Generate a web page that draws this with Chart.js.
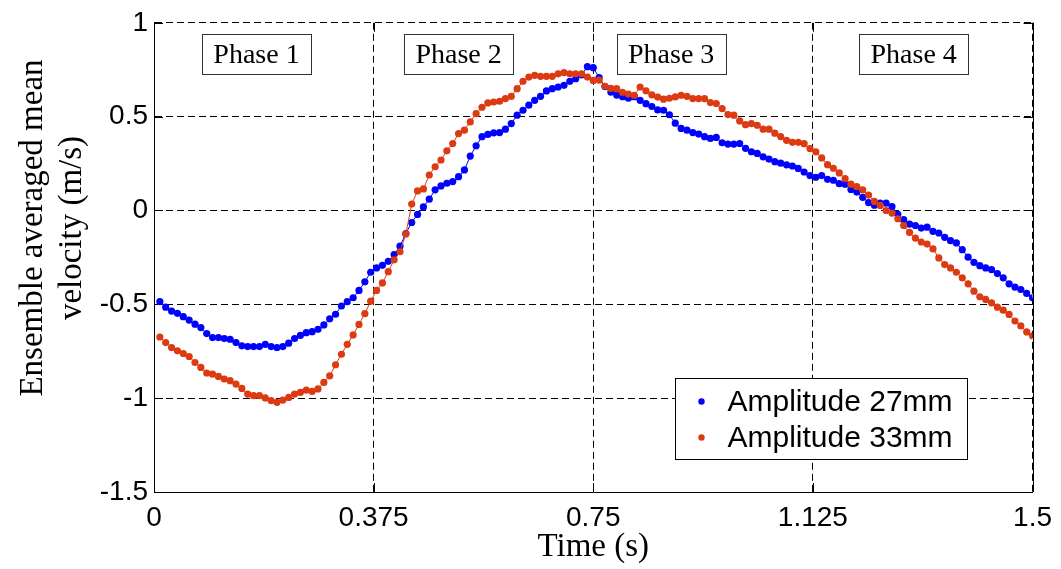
<!DOCTYPE html>
<html>
<head>
<meta charset="utf-8">
<script src="https://cdn.jsdelivr.net/npm/chart.js@4/dist/chart.umd.min.js"></script>
<style>
  html, body { margin: 0; padding: 0; background: #ffffff; }
  #wrap { width: 1061px; height: 569px; position: relative; }
  canvas { display: block; }
</style>
</head>
<body>
<div id="wrap"><canvas id="c" width="1061" height="569"></canvas></div>
<script>
// ---------------- data ----------------
const times = [
 0.01,0.02,0.03,0.04,0.05,0.06,0.07,0.08,0.09,0.10,
 0.11,0.12,0.13,0.14,0.15,0.16,0.17,0.18,0.19,0.20,
 0.21,0.22,0.23,0.24,0.25,0.26,0.27,0.28,0.29,0.30,
 0.31,0.32,0.33,0.34,0.35,0.36,0.37,0.38,0.39,0.40,
 0.41,0.42,0.43,0.44,0.45,0.46,0.47,0.48,0.49,0.50,
 0.51,0.52,0.53,0.54,0.55,0.56,0.57,0.58,0.59,0.60,
 0.61,0.62,0.63,0.64,0.65,0.66,0.67,0.68,0.69,0.70,
 0.71,0.72,0.73,0.74,0.75,0.76,0.77,0.78,0.79,0.80,
 0.81,0.82,0.83,0.84,0.85,0.86,0.87,0.88,0.89,0.90,
 0.91,0.92,0.93,0.94,0.95,0.96,0.97,0.98,0.99,1.00,
 1.01,1.02,1.03,1.04,1.05,1.06,1.07,1.08,1.09,1.10,
 1.11,1.12,1.13,1.14,1.15,1.16,1.17,1.18,1.19,1.20,
 1.21,1.22,1.23,1.24,1.25,1.26,1.27,1.28,1.29,1.30,
 1.31,1.32,1.33,1.34,1.35,1.36,1.37,1.38,1.39,1.40,
 1.41,1.42,1.43,1.44,1.45,1.46,1.47,1.48,1.49,1.50
];

const amp27 = [
 -0.486,-0.515,-0.536,-0.548,-0.566,-0.584,-0.606,-0.624,-0.656,-0.677,
 -0.677,-0.682,-0.686,-0.704,-0.721,-0.725,-0.725,-0.725,-0.713,-0.725,
 -0.730,-0.725,-0.707,-0.682,-0.665,-0.651,-0.646,-0.633,-0.610,-0.577,
 -0.553,-0.509,-0.486,-0.465,-0.426,-0.380,-0.329,-0.306,-0.292,-0.271,
 -0.235,-0.190,-0.123,-0.064,-0.021,0.019,0.060,0.110,0.131,0.145,
 0.154,0.180,0.216,0.290,0.345,0.393,0.405,0.414,0.415,0.433,
 0.463,0.508,0.534,0.561,0.587,0.608,0.637,0.649,0.658,0.667,
 0.688,0.702,0.723,0.766,0.761,0.708,0.660,0.631,0.615,0.606,
 0.598,0.606,0.587,0.569,0.554,0.536,0.534,0.510,0.465,0.437,
 0.428,0.415,0.407,0.393,0.384,0.389,0.361,0.354,0.354,0.357,
 0.331,0.313,0.304,0.286,0.274,0.260,0.252,0.243,0.237,0.224,
 0.205,0.186,0.177,0.186,0.166,0.161,0.143,0.140,0.112,0.098,
 0.070,0.042,0.028,0.039,0.039,0.021,-0.020,-0.049,-0.073,-0.080,
 -0.094,-0.089,-0.111,-0.120,-0.143,-0.161,-0.173,-0.209,-0.249,-0.276,
 -0.294,-0.306,-0.315,-0.336,-0.359,-0.391,-0.408,-0.421,-0.442,-0.465
];

const amp33 = [
 -0.674,-0.704,-0.730,-0.748,-0.762,-0.778,-0.810,-0.836,-0.866,-0.872,
 -0.884,-0.898,-0.907,-0.925,-0.948,-0.978,-0.987,-0.987,-0.999,-1.013,
 -1.022,-1.010,-0.996,-0.978,-0.969,-0.957,-0.964,-0.951,-0.916,-0.881,
 -0.822,-0.766,-0.713,-0.663,-0.607,-0.550,-0.483,-0.426,-0.386,-0.326,
 -0.263,-0.220,-0.125,0.034,0.104,0.115,0.189,0.233,0.269,0.318,
 0.357,0.410,0.428,0.472,0.516,0.550,0.573,0.578,0.582,0.596,
 0.608,0.649,0.688,0.711,0.720,0.715,0.715,0.715,0.728,0.734,
 0.728,0.728,0.728,0.711,0.693,0.695,0.662,0.651,0.649,0.630,
 0.620,0.614,0.658,0.638,0.616,0.604,0.593,0.598,0.605,0.614,
 0.608,0.596,0.596,0.596,0.575,0.570,0.543,0.511,0.508,0.477,
 0.457,0.463,0.454,0.433,0.433,0.412,0.394,0.374,0.363,0.363,
 0.356,0.330,0.313,0.280,0.244,0.225,0.200,0.170,0.140,0.127,
 0.110,0.082,0.048,0.027,0.000,-0.014,-0.044,-0.080,-0.117,-0.147,
 -0.168,-0.179,-0.205,-0.253,-0.288,-0.306,-0.329,-0.359,-0.391,-0.430,
 -0.460,-0.474,-0.492,-0.515,-0.531,-0.554,-0.589,-0.615,-0.647,-0.668
];

const seriesLabels = ['Amplitude 27mm', 'Amplitude 33mm'];
const xTickValues = [0, 0.375, 0.75, 1.125, 1.5];
const xTickLabels = ['0', '0.375', '0.75', '1.125', '1.5'];
const yTickValues = [-1.5, -1, -0.5, 0, 0.5, 1];
const yTickLabels = ['-1.5', '-1', '-0.5', '0', '0.5', '1'];
const phaseLabels = ['Phase 1', 'Phase 2', 'Phase 3', 'Phase 4'];
const phaseCenters = [0.175, 0.52, 0.883, 1.297];
const xTitle = 'Time (s)';
const yTitleLines = ['Ensemble averaged mean', 'velocity (m/s)'];

// ---------------- styles ----------------
const BLUE = '#0000ff';
const RED = '#dc3a12';
const SANS = "'Liberation Sans', Arial, sans-serif";
const SERIF = "'Liberation Serif', 'Times New Roman', serif";

function pts(ys) { return ys.map((y, i) => ({ x: times[i], y: y })); }

const overlay = {
  id: 'overlay',
  beforeDatasetsDraw(chart) {
    const ctx = chart.ctx, a = chart.chartArea;
    const xs = chart.scales.x, ys = chart.scales.y;
    ctx.save();
    ctx.strokeStyle = '#000';
    ctx.lineWidth = 1;
    ctx.setLineDash([]);
    const rx = Math.round(a.right) + 0.5;
    ctx.beginPath(); ctx.moveTo(rx, a.top); ctx.lineTo(rx, a.bottom); ctx.stroke();
    const L = 9;
    xTickValues.forEach(v => {
      const px = Math.round(xs.getPixelForValue(v)) + 0.5;
      ctx.beginPath(); ctx.moveTo(px, a.bottom); ctx.lineTo(px, a.bottom - L); ctx.stroke();
      ctx.beginPath(); ctx.moveTo(px, a.top); ctx.lineTo(px, a.top + L); ctx.stroke();
    });
    yTickValues.forEach(v => {
      const py = Math.round(ys.getPixelForValue(v)) + 0.5;
      ctx.beginPath(); ctx.moveTo(a.left, py); ctx.lineTo(a.left + L, py); ctx.stroke();
      ctx.beginPath(); ctx.moveTo(a.right, py); ctx.lineTo(a.right - L, py); ctx.stroke();
    });
    ctx.restore();
  },
  afterDraw(chart) {
    const ctx = chart.ctx, a = chart.chartArea;
    const xs = chart.scales.x;
    ctx.save();
    // phase label boxes
    ctx.font = '28px ' + SERIF;
    ctx.textBaseline = 'middle';
    ctx.textAlign = 'center';
    phaseLabels.forEach((t, i) => {
      const cx = xs.getPixelForValue(phaseCenters[i]);
      const w = 109, h = 40;
      const bx = Math.round(cx - w / 2) + 0.5, by = Math.round(a.top + 11) + 0.5;
      ctx.fillStyle = '#fff';
      ctx.fillRect(bx, by, w, h);
      ctx.strokeStyle = '#333';
      ctx.lineWidth = 1;
      ctx.strokeRect(bx, by, w, h);
      ctx.fillStyle = '#000';
      ctx.fillText(t, cx, by + h / 2 + 1);
    });
    // legend
    const lx = Math.round(a.right - 358) + 0.5, ly = Math.round(a.bottom - 114) + 0.5;
    const lw = 292, lh = 81;
    ctx.fillStyle = '#fff';
    ctx.fillRect(lx, ly, lw, lh);
    ctx.strokeStyle = '#000';
    ctx.lineWidth = 1;
    ctx.strokeRect(lx, ly, lw, lh);
    ctx.font = '30px ' + SANS;
    ctx.textAlign = 'left';
    ctx.textBaseline = 'middle';
    const colors = [BLUE, RED];
    seriesLabels.forEach((t, i) => {
      const yy = ly + 23 + i * 36;
      ctx.fillStyle = colors[i];
      ctx.beginPath(); ctx.arc(lx + 26, yy, 3.2, 0, Math.PI * 2); ctx.fill();
      ctx.fillStyle = '#000';
      ctx.fillText(t, lx + 52, yy + 1);
    });
    // y axis title (two lines, rotated)
    ctx.font = '33px ' + SERIF;
    ctx.textAlign = 'center';
    ctx.textBaseline = 'middle';
    ctx.fillStyle = '#000';
    const cy = 228;
    [33, 72].forEach((xx, i) => {
      ctx.save();
      ctx.translate(xx, cy);
      ctx.rotate(-Math.PI / 2);
      ctx.fillText(yTitleLines[i], 0, 0);
      ctx.restore();
    });
    ctx.restore();
  }
};

new Chart(document.getElementById('c'), {
  type: 'line',
  data: {
    datasets: [
      {
        label: seriesLabels[0], data: pts(amp27), order: 1,
        borderColor: BLUE, backgroundColor: BLUE, borderWidth: 1,
        pointRadius: 3.6, pointBorderWidth: 0, pointBackgroundColor: BLUE,
        tension: 0, fill: false
      },
      {
        label: seriesLabels[1], data: pts(amp33), order: 0,
        borderColor: RED, backgroundColor: RED, borderWidth: 1,
        pointRadius: 3.6, pointBorderWidth: 0, pointBackgroundColor: RED,
        tension: 0, fill: false
      }
    ]
  },
  options: {
    responsive: false,
    animation: false,
    devicePixelRatio: 1,
    layout: { padding: { top: 20, right: 27, left: 0, bottom: 0 } },
    plugins: { legend: { display: false }, tooltip: { enabled: false } },
    scales: {
      x: {
        type: 'linear', min: 0, max: 1.5,
        afterBuildTicks: s => { s.ticks = xTickValues.map(v => ({ value: v })); },
        afterFit: s => { s.height = 77; },
        grid: { color: '#000', lineWidth: 1, drawTicks: false },
        border: { display: true, color: '#000', width: 1, dash: [7, 4] },
        ticks: {
          color: '#000', padding: 9, maxRotation: 0, autoSkip: false,
          font: { family: SANS, size: 28 },
          callback: v => { const k = xTickValues.indexOf(v); return k >= 0 ? xTickLabels[k] : ''; }
        },
        title: { display: true, text: xTitle, color: '#000', font: { family: SERIF, size: 33 }, padding: { top: 0, bottom: 2 } }
      },
      y: {
        type: 'linear', min: -1.5, max: 1,
        afterBuildTicks: s => { s.ticks = yTickValues.map(v => ({ value: v })); },
        afterFit: s => { s.width = 154; },
        grid: { color: '#000', lineWidth: 1, drawTicks: false },
        border: { display: true, color: '#000', width: 1, dash: [7, 4] },
        ticks: {
          color: '#000', padding: 6, autoSkip: false,
          font: { family: SANS, size: 28 },
          callback: v => { const k = yTickValues.indexOf(v); return k >= 0 ? yTickLabels[k] : ''; }
        }
      }
    }
  },
  plugins: [overlay]
});
</script>
</body>
</html>
